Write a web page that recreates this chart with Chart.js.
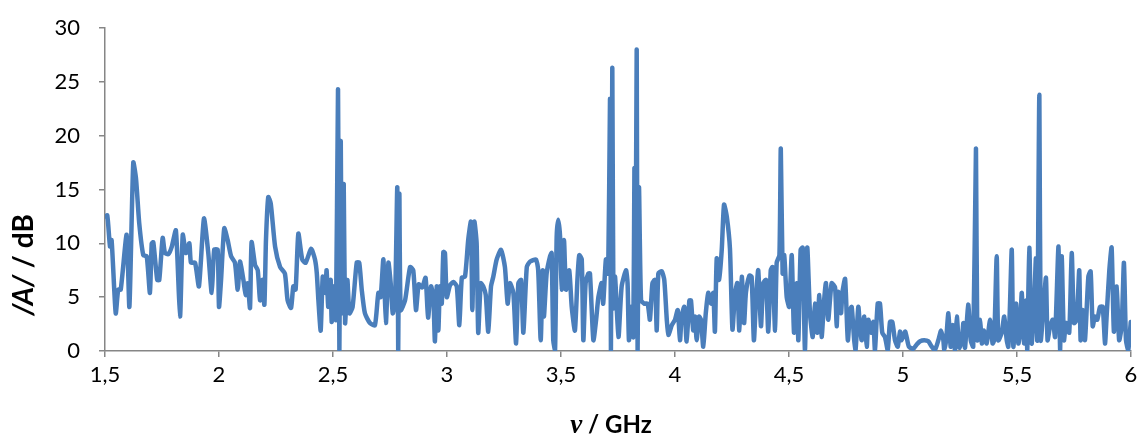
<!DOCTYPE html>
<html>
<head>
<meta charset="utf-8">
<script src="https://cdn.jsdelivr.net/npm/chart.js@4.4.1/dist/chart.umd.min.js"></script>
<style>
  html, body { margin: 0; padding: 0; background: #fff; }
  #wrap { width: 1140px; height: 437px; }
</style>
</head>
<body>
<div id="wrap"><canvas id="spec"></canvas></div>
<script>
// frequency in GHz, amplitude |A| in dB
const freqGHz = [
  1.500, 1.510, 1.522, 1.529, 1.547, 1.558, 1.569, 1.595, 1.607, 1.624, 1.636, 1.650, 1.668, 1.683, 1.697, 1.705,
  1.712, 1.729, 1.738, 1.753, 1.763, 1.778, 1.793, 1.811, 1.829, 1.841, 1.855, 1.870, 1.877, 1.895, 1.912, 1.934,
  1.953, 1.968, 1.979, 1.994, 2.000, 2.009, 2.023, 2.038, 2.053, 2.070, 2.082, 2.092, 2.107, 2.117, 2.126, 2.136,
  2.143, 2.158, 2.170, 2.180, 2.190, 2.199, 2.206, 2.216, 2.227, 2.246, 2.268, 2.289, 2.301, 2.316, 2.326, 2.336,
  2.348, 2.365, 2.380, 2.404, 2.421, 2.429, 2.436, 2.446, 2.455, 2.465, 2.472, 2.479, 2.490, 2.494, 2.504, 2.513,
  2.522, 2.528, 2.534, 2.539, 2.547, 2.553, 2.563, 2.572, 2.586, 2.604, 2.615, 2.626, 2.640, 2.662, 2.684, 2.699,
  2.709, 2.721, 2.732, 2.743, 2.753, 2.762, 2.772, 2.782, 2.786, 2.791, 2.797, 2.816, 2.838, 2.852, 2.864, 2.876,
  2.891, 2.906, 2.917, 2.930, 2.940, 2.947, 2.955, 2.962, 2.969, 2.977, 2.984, 2.991, 2.999, 3.013, 3.028, 3.043,
  3.054, 3.065, 3.079, 3.093, 3.105, 3.111, 3.120, 3.130, 3.137, 3.148, 3.159, 3.170, 3.181, 3.193, 3.203, 3.218,
  3.237, 3.254, 3.266, 3.276, 3.291, 3.303, 3.313, 3.325, 3.335, 3.350, 3.364, 3.390, 3.400, 3.411, 3.420, 3.425,
  3.437, 3.452, 3.459, 3.466, 3.474, 3.481, 3.488, 3.496, 3.503, 3.513, 3.522, 3.536, 3.547, 3.561, 3.572, 3.580,
  3.591, 3.598, 3.608, 3.620, 3.627, 3.642, 3.654, 3.664, 3.678, 3.685, 3.697, 3.707, 3.715, 3.719, 3.725, 3.730,
  3.737, 3.752, 3.766, 3.785, 3.792, 3.798, 3.807, 3.817, 3.822, 3.826, 3.832, 3.836, 3.842, 3.851, 3.865, 3.880,
  3.890, 3.901, 3.912, 3.920, 3.927, 3.942, 3.953, 3.964, 3.971, 3.986, 4.000, 4.012, 4.022, 4.029, 4.041, 4.051,
  4.063, 4.070, 4.080, 4.088, 4.095, 4.105, 4.114, 4.124, 4.135, 4.146, 4.158, 4.168, 4.175, 4.183, 4.193, 4.205,
  4.215, 4.227, 4.241, 4.252, 4.263, 4.273, 4.282, 4.293, 4.303, 4.311, 4.326, 4.336, 4.346, 4.355, 4.365, 4.377,
  4.387, 4.399, 4.409, 4.420, 4.428, 4.439, 4.446, 4.458, 4.464, 4.472, 4.479, 4.490, 4.501, 4.512, 4.522, 4.534,
  4.541, 4.551, 4.560, 4.570, 4.580, 4.592, 4.604, 4.614, 4.624, 4.633, 4.643, 4.654, 4.662, 4.672, 4.687, 4.702,
  4.709, 4.716, 4.728, 4.734, 4.746, 4.758, 4.768, 4.775, 4.786, 4.792, 4.804, 4.811, 4.819, 4.830, 4.841, 4.848,
  4.860, 4.870, 4.877, 4.889, 4.899, 4.909, 4.921, 4.933, 4.943, 4.953, 4.965, 4.977, 4.987, 4.994, 5.009, 5.016,
  5.026, 5.045, 5.060, 5.075, 5.093, 5.111, 5.126, 5.140, 5.155, 5.167, 5.177, 5.181, 5.189, 5.199, 5.209, 5.218,
  5.228, 5.236, 5.247, 5.258, 5.265, 5.272, 5.286, 5.297, 5.308, 5.320, 5.326, 5.338, 5.346, 5.355, 5.367, 5.382,
  5.393, 5.400, 5.411, 5.418, 5.433, 5.444, 5.455, 5.462, 5.469, 5.477, 5.484, 5.496, 5.506, 5.513, 5.521, 5.531,
  5.540, 5.545, 5.554, 5.564, 5.575, 5.583, 5.589, 5.598, 5.604, 5.616, 5.627, 5.634, 5.645, 5.657, 5.667, 5.682,
  5.689, 5.696, 5.706, 5.715, 5.729, 5.740, 5.750, 5.762, 5.773, 5.779, 5.788, 5.798, 5.813, 5.823, 5.832, 5.842,
  5.852, 5.864, 5.876, 5.886, 5.893, 5.905, 5.915, 5.925, 5.937, 5.948, 5.959, 5.969, 5.978, 5.988, 5.999
];
const ampDB = [
  12.5, 12.6, 9.7, 10.3, 3.5, 5.7, 5.7, 10.8, 4.1, 17.5, 16.0, 11.9, 8.9, 8.8, 5.4, 10.0,
  10.1, 6.6, 6.6, 10.5, 9.1, 9.0, 9.7, 11.2, 3.2, 10.8, 9.1, 10.0, 8.2, 8.2, 6.0, 12.3,
  9.1, 5.4, 9.4, 9.4, 4.1, 6.6, 11.4, 10.3, 8.8, 8.2, 5.7, 8.3, 6.6, 5.2, 6.3, 4.0,
  10.1, 8.0, 7.5, 4.7, 6.6, 4.3, 10.3, 14.3, 13.7, 9.7, 7.8, 7.2, 4.7, 4.0, 6.0, 5.7,
  10.9, 8.5, 8.2, 9.5, 8.5, 7.2, 4.7, 1.9, 6.9, 5.4, 7.5, 4.1, 6.6, 2.7, 6.0, 2.9,
  24.3, 0.1, 19.5, 3.5, 15.5, 2.6, 6.6, 3.5, 4.1, 8.2, 8.2, 5.7, 3.5, 2.6, 2.4, 5.4,
  5.0, 8.5, 2.6, 8.2, 6.3, 3.5, 4.4, 15.2, 0.1, 14.6, 3.8, 4.7, 7.8, 7.5, 3.8, 6.2,
  5.9, 6.8, 3.1, 6.0, 5.0, 0.9, 6.0, 1.9, 6.0, 4.4, 9.2, 9.1, 5.0, 6.1, 6.4, 6.0,
  2.4, 6.8, 6.9, 10.3, 12.0, 3.8, 12.0, 10.0, 1.7, 6.3, 6.0, 5.2, 1.8, 6.0, 6.9, 8.5,
  9.4, 7.8, 4.4, 6.3, 5.4, 0.7, 6.3, 6.6, 1.7, 7.8, 8.3, 8.5, 7.5, 1.0, 7.5, 3.2,
  7.2, 8.8, 9.1, 1.0, 0.1, 10.6, 12.2, 10.6, 5.7, 10.3, 5.7, 7.5, 4.1, 1.9, 6.6, 8.9,
  8.5, 1.0, 6.3, 7.2, 7.2, 1.0, 2.9, 5.0, 6.3, 4.4, 8.5, 7.2, 23.4, 0.1, 26.3, 4.0,
  6.9, 1.3, 6.0, 7.5, 6.3, 1.0, 4.1, 1.3, 17.0, 3.0, 28.0, 0.1, 15.2, 4.7, 4.4, 4.4,
  2.9, 6.3, 6.6, 1.9, 7.2, 7.4, 6.6, 2.9, 1.5, 2.4, 2.9, 3.8, 1.0, 3.2, 4.1, 0.9,
  4.7, 4.7, 1.9, 3.2, 1.0, 3.2, 2.9, 0.4, 3.5, 5.4, 4.4, 5.4, 1.8, 8.6, 6.6, 9.4,
  13.6, 12.5, 9.5, 2.0, 5.3, 6.3, 1.9, 6.9, 2.6, 5.4, 7.0, 6.9, 1.0, 4.7, 7.5, 2.3,
  6.3, 6.6, 1.8, 7.5, 7.8, 1.9, 8.2, 8.9, 18.8, 7.2, 8.9, 5.0, 4.1, 8.9, 1.7, 6.3,
  1.0, 9.4, 9.6, 0.1, 9.6, 3.5, 1.3, 4.4, 1.7, 5.2, 1.3, 4.7, 6.3, 2.9, 6.3, 5.9,
  2.3, 5.5, 3.5, 5.4, 6.7, 1.0, 3.8, 4.1, 1.0, 0.1, 4.1, 2.3, 1.0, 3.2, 0.4, 2.9,
  1.7, 2.7, 0.1, 4.4, 4.4, 1.7, 1.3, 0.1, 2.7, 2.7, 1.0, 0.4, 1.8, 1.0, 1.8, 1.3,
  0.4, 0.2, 0.6, 0.9, 1.0, 0.9, 0.4, 0.1, 1.0, 1.9, 1.0, 0.1, 1.0, 3.5, 0.4, 2.4,
  0.1, 3.2, 0.3, 1.0, 2.6, 0.3, 4.3, 1.0, 0.4, 18.8, 1.0, 2.9, 0.7, 1.9, 0.7, 2.9,
  0.7, 1.0, 8.8, 1.0, 1.7, 3.2, 1.0, 0.4, 4.1, 9.4, 0.4, 4.4, 0.7, 1.7, 5.4, 0.7,
  4.7, 0.1, 9.6, 0.7, 4.1, 8.6, 1.0, 23.8, 1.0, 4.0, 6.8, 1.0, 2.3, 2.9, 1.3, 9.7,
  0.1, 8.8, 1.0, 2.6, 1.7, 9.1, 2.6, 2.9, 7.5, 1.0, 3.8, 1.0, 6.9, 7.4, 2.3, 3.2,
  2.9, 4.1, 4.1, 0.7, 3.2, 7.5, 9.6, 1.8, 6.0, 1.0, 2.3, 8.2, 1.0, 0.1, 2.7
];
const xTicks = [1.5, 2, 2.5, 3, 3.5, 4, 4.5, 5, 5.5, 6];
const xTickLabels = ["1,5", "2", "2,5", "3", "3,5", "4", "4,5", "5", "5,5", "6"];
const yTicks = [0, 5, 10, 15, 20, 25, 30];

const axisGrey = "#868686";
const lineBlue = "#4A7EBB";
const tickFont = { family: "Lato, 'Open Sans', sans-serif", size: 22 };

// axis titles drawn by hand: mixed italic / upright pieces
const axisTitles = {
  id: "axisTitles",
  afterDraw(chart) {
    const ctx = chart.ctx;
    ctx.save();
    ctx.fillStyle = "#000";
    ctx.textBaseline = "alphabetic";

    // x title: "ν / GHz"
    const nuFont = "bold italic 27px 'Liberation Serif', serif";
    const restFont = "bold 24px Lato, 'Open Sans', sans-serif";
    ctx.font = nuFont;
    const w1 = ctx.measureText("ν").width;
    ctx.font = restFont;
    const w2 = ctx.measureText(" / GHz").width;
    let x0 = 611 - (w1 + w2) / 2;
    ctx.font = nuFont;
    ctx.fillText("ν", x0, 433);
    ctx.font = restFont;
    ctx.fillText(" / GHz", x0 + w1, 433);

    // y title: "/A/ / dB"
    ctx.translate(33, 265);
    ctx.rotate(-Math.PI / 2);
    const aFont = "bold italic 28px Lato, 'Open Sans', sans-serif";
    const bFont = "bold 28px Lato, 'Open Sans', sans-serif";
    ctx.font = aFont;
    const a = ctx.measureText("/A/").width;
    ctx.font = bFont;
    const b = ctx.measureText(" / dB").width;
    const s = -(a + b) / 2;
    ctx.font = aFont;
    ctx.fillText("/A/", s, 0);
    ctx.font = bFont;
    ctx.fillText(" / dB", s + a, 0);
    ctx.restore();
  }
};

new Chart(document.getElementById("spec"), {
  type: "line",
  data: {
    datasets: [{
      data: freqGHz.map((f, i) => ({ x: f, y: ampDB[i] })),
      borderColor: lineBlue,
      borderWidth: 4.5,
      borderJoinStyle: "round",
      borderCapStyle: "round",
      pointRadius: 0,
      tension: 0.2,
      fill: false
    }]
  },
  options: {
    responsive: true,
    maintainAspectRatio: false,
    animation: false,
    layout: { autoPadding: false, padding: { left: 0, right: 9, top: 28, bottom: 0 } },
    plugins: { legend: { display: false }, tooltip: { enabled: false } },
    scales: {
      x: {
        type: "linear",
        min: 1.5, max: 6,
        // fixed band under the plot; label overhang must not shrink the plot area
        afterFit: s => { s.height = 86; s.paddingLeft = 0; s.paddingRight = 0; },
        afterBuildTicks: s => { s.ticks = xTicks.map(v => ({ value: v })); },
        grid: { drawOnChartArea: false, drawTicks: true, tickLength: 6, color: axisGrey, lineWidth: 1.5 },
        border: { color: axisGrey, width: 1.5 },
        ticks: {
          color: "#000", font: tickFont, padding: 5, maxRotation: 0, autoSkip: false,
          callback: (v) => xTickLabels[xTicks.indexOf(v)]
        }
      },
      y: {
        min: 0, max: 30,
        afterFit: s => { s.width = 105; s.paddingTop = 0; s.paddingBottom = 0; },
        afterBuildTicks: s => { s.ticks = yTicks.map(v => ({ value: v })); },
        grid: { drawOnChartArea: false, drawTicks: true, tickLength: 6, color: axisGrey, lineWidth: 1.5 },
        border: { color: axisGrey, width: 1.5 },
        ticks: { color: "#000", font: tickFont, padding: 19 }
      }
    }
  },
  plugins: [axisTitles]
});
</script>
</body>
</html>
